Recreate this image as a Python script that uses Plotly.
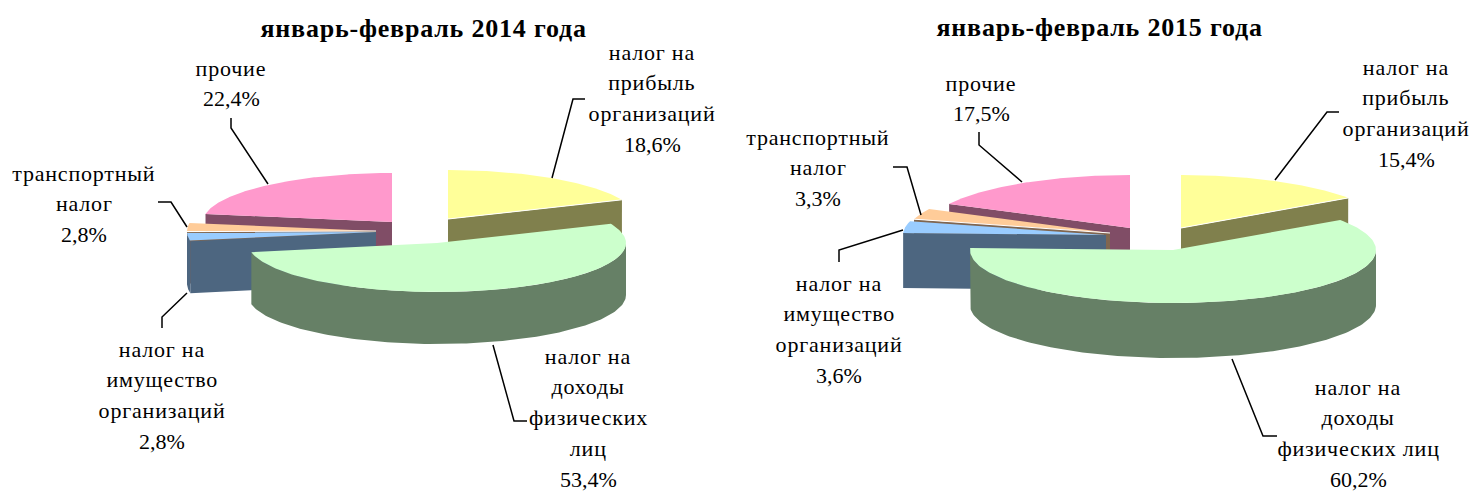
import numpy as np
import plotly.graph_objects as go

# ---- data ----
categories = ["налог на прибыль организаций", "налог на доходы физических лиц",
              "налог на имущество организаций", "транспортный налог", "прочие"]
titles = ["январь-февраль 2014 года", "январь-февраль 2015 года"]
values_2014 = [18.6, 53.4, 2.8, 2.8, 22.4]
values_2015 = [15.4, 60.2, 3.6, 3.3, 17.5]
label_lines_2014 = [["налог на", "прибыль", "организаций"], ["налог на", "доходы", "физических", "лиц"],
                    ["налог на", "имущество", "организаций"], ["транспортный", "налог"], ["прочие"]]
label_lines_2015 = [["налог на", "прибыль", "организаций"], ["налог на", "доходы", "физических лиц"],
                    ["налог на", "имущество", "организаций"], ["транспортный", "налог"], ["прочие"]]
top_colors = ["#FFFF99", "#CCFFCC", "#99CCFF", "#FFCC99", "#FF99CC"]
side_colors = ["#80804D", "#668066", "#4D6680", "#806650", "#804D66"]

# ---- drawing geometry (pixel-like axis units) ----
geom_2014 = dict(a=189, b=49, depth=52,
                 centers=[(448, 219), (437, 243), (376, 232), (376, 231), (392, 222)],
                 order=[4, 0, 3, 2, 1],
                 label_x=[652, 588, 162, 84, 231], label_y=[52, 356, 349, 173, 68],
                 leaders=[[(585, 99), (573, 99), (552, 178)], [(527, 421), (514, 421), (493, 345)],
                          [(187, 293), (162, 317), (162, 328)], [(158, 202), (171, 202), (187, 227)],
                          [(231, 118), (231, 128), (268, 184)]],
                 title_x=423, title_y=28)
geom_2015 = dict(a=203, b=53, depth=55,
                 centers=[(1181, 228), (1173, 250), (1106, 235), (1110, 233), (1130, 228)],
                 order=[4, 0, 3, 2, 1],
                 label_x=[1406, 1358, 839, 818, 981], label_y=[67, 387, 283, 137, 83],
                 leaders=[[(1339, 112), (1327, 112), (1275, 180)], [(1277, 436), (1263, 436), (1232, 359)],
                          [(903, 230), (839, 250), (839, 262)], [(893, 167), (907, 167), (921, 215)],
                          [(979, 132), (979, 145), (1022, 182)]],
                 title_x=1099, title_y=27)
LINE_STEP = 30.8
FONT = "Liberation Serif"
WHITE_EDGE = (0, 3)

fig = go.Figure()


def poly(xs, ys, color):
    fig.add_trace(go.Scatter(x=list(xs), y=list(ys), mode="lines", fill="toself", fillcolor=color,
                             line=dict(width=0, color=color), hoverinfo="skip", showlegend=False))


def draw_pie(values, lines, g, title):
    total = sum(values)
    edges = np.concatenate([[0], np.cumsum(values)]) / total * 360
    a, b, d = g["a"], g["b"], g["depth"]
    for i in g["order"]:
        s, e = edges[i], edges[i + 1]
        cx, cy = g["centers"][i]
        px = lambda t: cx + a * np.sin(np.radians(t))
        py = lambda t: cy - b * np.cos(np.radians(t))
        # cut faces that look towards the viewer
        for t, visible in ((s, s > 180), (e, e < 180)):
            if visible:
                poly([cx, px(t), px(t), cx, cx], [cy, py(t), py(t) + d, cy + d, cy], side_colors[i])
        # outer wall on the near half
        lo, hi = max(s, 90), min(e, 270)
        if hi > lo:
            th = np.linspace(lo, hi, 120)
            poly(np.r_[px(th), px(th)[::-1]], np.r_[py(th), (py(th) + d)[::-1]], side_colors[i])
        # top face
        th = np.linspace(s, e, 160)
        poly(np.r_[cx, px(th), cx], np.r_[cy, py(th), cy], top_colors[i])
        if i in WHITE_EDGE:
            t = e if e < 180 else s
            fig.add_trace(go.Scatter(x=[cx, px(t)], y=[cy, py(t)], mode="lines",
                                     line=dict(color="white", width=1), hoverinfo="skip", showlegend=False))
    # leaders
    for pts in g["leaders"]:
        fig.add_trace(go.Scatter(x=[p[0] for p in pts], y=[p[1] for p in pts], mode="lines",
                                 line=dict(color="black", width=1.5), hoverinfo="skip", showlegend=False))
    # labels
    for i, v in enumerate(values):
        rows = lines[i] + [f"{v:.1f}".replace(".", ",") + "%"]
        for k, row in enumerate(rows):
            fig.add_annotation(x=g["label_x"][i], y=g["label_y"][i] + k * LINE_STEP, text=row,
                               showarrow=False, xanchor="center", yanchor="middle",
                               font=dict(family=FONT, size=22, color="black"))
    fig.add_annotation(x=g["title_x"], y=g["title_y"], text=f"<b>{title}</b>", showarrow=False,
                       xanchor="center", yanchor="middle", font=dict(family=FONT, size=26, color="black"))


draw_pie(values_2014, label_lines_2014, geom_2014, titles[0])
draw_pie(values_2015, label_lines_2015, geom_2015, titles[1])

fig.update_layout(width=1471, height=492, margin=dict(l=0, r=0, t=0, b=0),
                  paper_bgcolor="white", plot_bgcolor="white", showlegend=False,
                  xaxis=dict(range=[0, 1471], visible=False, fixedrange=True),
                  yaxis=dict(range=[492, 0], visible=False, fixedrange=True))
spacing_js = """
document.body.style.margin='0';
document.documentElement.style.overflow='hidden';
document.querySelectorAll('.annotation-text').forEach(function(t){
  var s = t.textContent;
  t.style.letterSpacing = s.indexOf('январь') >= 0 ? '0.8px' : (s.indexOf('%') >= 0 ? '0px' : '0.8px');
});
"""
fig.write_html("out.html", config={"displayModeBar": False}, post_script=spacing_js)
